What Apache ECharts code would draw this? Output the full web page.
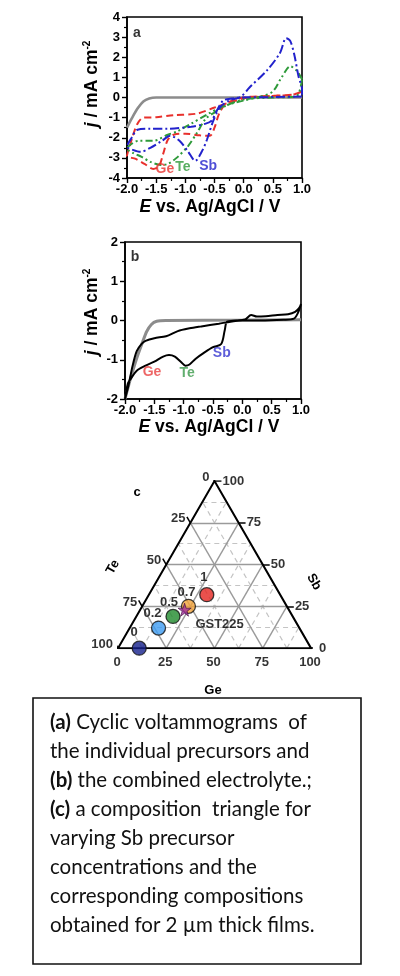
<!DOCTYPE html>
<html><head><meta charset="utf-8">
<script src="https://cdn.jsdelivr.net/npm/echarts@6/dist/echarts.min.js"></script>
<style>html,body{margin:0;padding:0;background:#fff;}#c{width:400px;height:976px;}</style>
</head><body><div id="c"></div>
<script>
// ---------- Panel a : individual precursors  [E (V), j (mA cm-2)] ----------
const bgA = [[-2.0,-1.5],[-1.92,-1.05],[-1.82,-0.55],[-1.72,-0.2],[-1.62,-0.05],[-1.5,0],[-1.0,0],[0,0],[1.0,0]];
const geA = [[1.0,0.3],[0.85,0.15],[0.5,0.08],[0.2,0.02],[0.0,-0.05],[-0.25,-0.25],[-0.5,-0.5],[-0.8,-0.8],[-1.2,-0.88],[-1.5,-0.98],[-1.72,-1.0],[-1.82,-1.3],[-1.9,-1.9],[-1.96,-2.5],[-2.0,-2.9],[-1.85,-3.05],[-1.7,-3.3],[-1.55,-3.55],[-1.45,-3.4],[-1.38,-2.8],[-1.3,-2.1],[-1.2,-1.85],[-1.0,-1.8],[-0.75,-1.88],[-0.58,-1.9],[-0.5,-1.5],[-0.42,-0.8],[-0.3,-0.3],[0.0,0.0],[0.5,0.08],[0.85,0.15],[1.0,0.3]];
const teA = [[1.0,0.9],[0.92,1.3],[0.8,1.55],[0.65,1.0],[0.5,0.3],[0.3,0.05],[0.0,-0.15],[-0.2,-0.3],[-0.4,-0.5],[-0.6,-0.8],[-0.9,-1.3],[-1.15,-1.7],[-1.3,-1.85],[-1.55,-2.15],[-1.8,-2.15],[-1.92,-2.3],[-2.0,-2.55],[-1.9,-2.75],[-1.75,-2.95],[-1.6,-3.2],[-1.42,-3.35],[-1.3,-3.3],[-1.15,-3.0],[-0.95,-2.4],[-0.8,-1.75],[-0.65,-1.05],[-0.5,-0.75],[-0.3,-0.4],[0.0,-0.1],[0.5,0.0],[0.9,0.05],[1.0,0.9]];
const sbA = [[1.0,0.05],[0.5,0.02],[0.0,0.0],[-0.2,-0.05],[-0.35,-0.15],[-0.45,-0.6],[-0.55,-1.15],[-0.65,-1.3],[-0.9,-1.45],[-1.3,-1.55],[-1.6,-1.55],[-1.82,-1.6],[-1.92,-2.0],[-2.0,-2.45],[-1.9,-2.6],[-1.77,-2.7],[-1.6,-2.5],[-1.4,-2.15],[-1.26,-1.9],[-1.1,-2.15],[-0.95,-2.7],[-0.83,-3.15],[-0.72,-2.7],[-0.63,-2.1],[-0.52,-1.15],[-0.4,-0.46],[-0.23,-0.13],[-0.05,0.03],[0.1,0.5],[0.4,1.35],[0.62,2.2],[0.73,2.95],[0.8,2.8],[0.87,2.1],[0.94,1.05],[1.0,0.4],[1.0,0.05]];
const annA = [['Ge',-1.35,-3.56,'#e8302c'],['Te',-1.04,-3.46,'#2e9a3a'],['Sb',-0.61,-3.41,'#2222cc']];

// ---------- Panel b : combined electrolyte ----------
const bgB = [[-2.0,-2.0],[-1.9,-1.45],[-1.8,-0.96],[-1.7,-0.55],[-1.63,-0.28],[-1.55,-0.1],[-1.46,-0.02],[-1.3,0],[0,0.01],[1.0,0.02]];
const combB = [[-2.0,-2.0],[-1.95,-1.6],[-1.9,-1.48],[-1.8,-1.28],[-1.65,-1.15],[-1.5,-1.05],[-1.35,-0.92],[-1.25,-0.88],[-1.15,-0.92],[-1.05,-1.05],[-0.97,-1.15],[-0.9,-1.12],[-0.8,-0.98],[-0.65,-0.82],[-0.5,-0.68],[-0.36,-0.6],[-0.3,-0.25],[-0.26,-0.03],[-0.1,0.0],[0.05,0.03],[0.15,0.14],[0.25,0.1],[0.4,0.11],[0.6,0.14],[0.78,0.16],[0.9,0.22],[0.97,0.32],[1.0,0.42],[0.95,0.2],[0.88,0.05],[0.7,0.02],[0.3,0.0],[0.0,0.0],[-0.2,-0.03],[-0.4,-0.08],[-0.7,-0.15],[-0.9,-0.2],[-1.1,-0.27],[-1.3,-0.4],[-1.5,-0.45],[-1.65,-0.52],[-1.72,-0.6],[-1.8,-0.78],[-1.87,-1.15],[-1.94,-1.65],[-2.0,-2.0]];
const annB = [['Ge',-1.54,-1.31,'#e84040'],['Te',-0.94,-1.34,'#3a9a4a'],['Sb',-0.35,-0.83,'#3535d0']];

// ---------- Panel c : composition triangle (at.% Ge, Sb; Te = rest) ----------
const ternNames = ['1','0.7','0.5','0.2','0'];
const ternGe = [30, 24, 19, 15, 11];
const ternSb = [32, 25, 19, 12, 0];
const ternColors = ['#e52521','#f2a23a','#1f8a2c','#3d9cf2','#15208c'];
const gst = ['GST225', 23, 23];
const ternTicks = [0,25,50,75,100];
const majorLevels = [25,50,75];
const minorLevels = [12.5,37.5,62.5,87.5];

const H = Math.sqrt(3)/2;
function tern(ge, sb){ return [ge + sb/2, sb*H]; }

const FONT = 'Liberation Sans';
const chart = echarts.init(document.getElementById('c'), null, {renderer:'canvas'});

function cvX(idx){
  return {gridIndex: idx, type:'value', min:-2, max:1, interval:0.5,
    axisLine:{show:true, onZero:false, lineStyle:{color:'#000', width:1.6}},
    axisTick:{show:true, length:5, lineStyle:{color:'#000', width:1.4}},
    minorTick:{show:true, splitNumber:2, length:3, lineStyle:{color:'#000', width:1.2}},
    splitLine:{show:false},
    axisLabel:{color:'#000', fontFamily:FONT, fontWeight:'bold', fontSize:13, margin:5,
      formatter: v => v.toFixed(1)}};
}
function cvY(idx, min, max){
  return {gridIndex: idx, type:'value', min:min, max:max, interval:1,
    axisLine:{show:true, onZero:false, lineStyle:{color:'#000', width:1.6}},
    axisTick:{show:true, length:5, lineStyle:{color:'#000', width:1.4}},
    minorTick:{show:true, splitNumber:2, length:3, lineStyle:{color:'#000', width:1.2}},
    splitLine:{show:false},
    axisLabel:{color:'#000', fontFamily:FONT, fontWeight:'bold', fontSize:13, margin:7}};
}
function cvLine(data, color, dash, xi, width){
  return {type:'line', xAxisIndex:xi, yAxisIndex:xi, data:data, smooth:0.3, symbol:'none',
    lineStyle:{color:color, width:width||2, type:dash}, z:3};
}
function annSeries(arr, xi, size){
  return {type:'scatter', xAxisIndex:xi, yAxisIndex:xi, symbolSize:0, z:5,
    data: arr.map(a => ({value:[a[1],a[2]], name:a[0],
      label:{show:true, position:'inside', formatter:a[0], color:a[3], fontFamily:FONT, fontWeight:'bold', fontSize:size}}))};
}

const series = [];
// panel a
series.push(cvLine(bgA, '#8c8c8c', 'solid', 0, 2.6));
series.push(cvLine(geA, '#e8302c', [7,4], 0, 2));
series.push(cvLine(teA, '#2e9a3a', [7,3,2,3,2,3], 0, 2));
series.push(cvLine(sbA, '#2222cc', [9,3,2,3], 0, 2));
series.push(annSeries(annA, 0, 14));
series.push({type:'scatter', xAxisIndex:0, yAxisIndex:0, symbolSize:0,
  data:[{value:[-1.83,3.2], label:{show:true, position:'inside', formatter:'a', color:'#000', fontFamily:FONT, fontWeight:'bold', fontSize:14}}]});
// panel b
series.push(cvLine(bgB, '#8c8c8c', 'solid', 1, 3));
series.push(cvLine(combB, '#000', 'solid', 1, 2));
series.push(annSeries(annB, 1, 14));
series.push({type:'scatter', xAxisIndex:1, yAxisIndex:1, symbolSize:0,
  data:[{value:[-1.83,1.62], label:{show:true, position:'inside', formatter:'b', color:'#000', fontFamily:FONT, fontWeight:'bold', fontSize:14}}]});

// panel c grid lines
function levelLines(levels){
  const out = [];
  levels.forEach(k => {
    out.push({coords:[tern(k,0), tern(k,100-k)]});
    out.push({coords:[tern(0,k), tern(100-k,k)]});
    out.push({coords:[tern(100-k,0), tern(0,100-k)]});
  });
  return out;
}
series.push({type:'lines', coordinateSystem:'cartesian2d', xAxisIndex:2, yAxisIndex:2, polyline:false, z:1,
  data: levelLines(minorLevels), lineStyle:{color:'#c4c4c4', width:1.2, type:[5,4], opacity:1}});
series.push({type:'lines', coordinateSystem:'cartesian2d', xAxisIndex:2, yAxisIndex:2, polyline:false, z:2,
  data: levelLines(majorLevels), lineStyle:{color:'#9a9a9a', width:1.4, opacity:1}});
// outline
series.push({type:'lines', coordinateSystem:'cartesian2d', xAxisIndex:2, yAxisIndex:2, polyline:true, z:3,
  data:[{coords:[tern(0,0), tern(100,0), tern(0,100), tern(0,0)]}], lineStyle:{color:'#000', width:2, opacity:1}});
// ticks
const L = 3.6;
const tickLines = [];
ternTicks.forEach(k => {
  const b = tern(k,0); tickLines.push({coords:[b,[b[0]-0.5*L, b[1]-H*L]]});
  const r = tern(100-k,k); tickLines.push({coords:[r,[r[0]+L, r[1]]]});
  const l = tern(0,100-k); tickLines.push({coords:[l,[l[0]-0.5*L, l[1]+H*L]]});
});
series.push({type:'lines', coordinateSystem:'cartesian2d', xAxisIndex:2, yAxisIndex:2, polyline:false, z:3,
  data:tickLines, lineStyle:{color:'#000', width:1.5, opacity:1}});
// tick labels
const tlStyle = {show:true, color:'#000', fontFamily:FONT, fontWeight:'bold', fontSize:13};
series.push({type:'scatter', xAxisIndex:2, yAxisIndex:2, symbolSize:0, clip:false, z:4,
  data: [].concat(
    ternTicks.map(k => ({value:tern(k,0), label:Object.assign({}, tlStyle, {position:'bottom', distance:8, offset:[-1,0], formatter:String(k)})})),
    ternTicks.map(k => ({value:tern(100-k,k), label:Object.assign({}, tlStyle, {position:'right', distance:8, formatter:String(k)})})),
    ternTicks.map(k => ({value:tern(0,100-k), label:Object.assign({}, tlStyle, {position:'left', distance:5, offset:[0,-4], formatter:String(k)})}))
  )});
// composition points
const ptLabelOffsets = [[-3,-17],[-2,-14],[-4,-14],[-6,-15],[-5,-16]];
series.push({type:'scatter', xAxisIndex:2, yAxisIndex:2, symbol:'circle', symbolSize:14, clip:false, z:6,
  data: ternNames.map((n,i) => ({value:tern(ternGe[i], ternSb[i]), name:n,
    itemStyle:{color:ternColors[i], borderColor:'#111', borderWidth:1.3},
    label:{show:true, position:'inside', offset:ptLabelOffsets[i], formatter:n, color:'#000', fontFamily:FONT, fontWeight:'bold', fontSize:13}}))});
series.push({type:'scatter', xAxisIndex:2, yAxisIndex:2, symbol:'path://M50,0 L61,35 L98,35 L68,57 L79,91 L50,70 L21,91 L32,57 L2,35 L39,35 Z',
  symbolSize:13, clip:false, z:7,
  data:[{value:tern(gst[1],gst[2]), name:gst[0], itemStyle:{color:'#a0309a', borderColor:'#3a0a3a', borderWidth:0.8},
    label:{show:true, position:'inside', offset:[35,15], formatter:gst[0], color:'#000', fontFamily:FONT, fontWeight:'bold', fontSize:13}}]});

const bold = {fontFamily:FONT, fontWeight:'bold', fontSize:13, fill:'#000'};
const TS = 17.5;
const titleRich = {i:{fontStyle:'italic', fontWeight:'bold', fontFamily:FONT, fontSize:TS},
  s:{fontSize:10, fontWeight:'bold', fontFamily:FONT, verticalAlign:'top', padding:[0,0,10,0]}};
const capLines = [
  '{b|(a)} Cyclic voltammograms  of',
  'the individual precursors and',
  '{b|(b)} the combined electrolyte.;',
  '{b|(c)} a composition  triangle for',
  'varying Sb precursor',
  'concentrations and the',
  'corresponding compositions',
  'obtained for 2 \u00b5m thick films.'
];
const capFont = 'Lato';
const CS = 20.5;
const graphics = [
  {type:'text', x:92, y:84, rotation:Math.PI/2, style:Object.assign({}, bold, {fontSize:TS, text:'{i|j} / mA cm{s|-2}', align:'center', verticalAlign:'middle', rich:titleRich})},
  {type:'text', x:210, y:207, style:Object.assign({}, bold, {fontSize:TS, text:'{i|E} vs. Ag/AgCl / V', align:'center', verticalAlign:'middle', rich:titleRich})},
  {type:'text', x:92, y:312, rotation:Math.PI/2, style:Object.assign({}, bold, {fontSize:TS, text:'{i|j} / mA cm{s|-2}', align:'center', verticalAlign:'middle', rich:titleRich})},
  {type:'text', x:209, y:427, style:Object.assign({}, bold, {fontSize:TS, text:'{i|E} vs. Ag/AgCl / V', align:'center', verticalAlign:'middle', rich:titleRich})},
  {type:'text', x:137, y:492, style:Object.assign({}, bold, {text:'c', align:'center', verticalAlign:'middle'})},
  {type:'text', x:113, y:567, rotation:Math.PI/3, style:Object.assign({}, bold, {text:'Te', align:'center', verticalAlign:'middle'})},
  {type:'text', x:314, y:582, rotation:-Math.PI/3, style:Object.assign({}, bold, {text:'Sb', align:'center', verticalAlign:'middle'})},
  {type:'text', x:213, y:690, style:Object.assign({}, bold, {text:'Ge', align:'center', verticalAlign:'middle'})},
  {type:'rect', shape:{x:33, y:698, width:328, height:266}, style:{fill:'#fff', stroke:'#111', lineWidth:1.6}, z:-1}
];
capLines.forEach((t,i) => {
  graphics.push({type:'text', x:50, y:722 + i*29.1, style:{text:t, fontFamily:capFont, fontSize:CS, fill:'#111', align:'left', verticalAlign:'middle',
    rich:{b:{fontFamily:capFont, fontSize:CS, fontWeight:'bold', fill:'#111'}}}});
});

chart.setOption({
  animation:false,
  backgroundColor:'#fff',
  grid:[
    {left:127, top:17, width:175, height:161, show:true, borderColor:'#000', borderWidth:1.6, backgroundColor:'transparent'},
    {left:125, top:242, width:176, height:157, show:true, borderColor:'#000', borderWidth:1.6, backgroundColor:'transparent'},
    {left:118, top:481, width:193, height:193*H}
  ],
  xAxis:[cvX(0), cvX(1), {gridIndex:2, type:'value', min:0, max:100, show:false}],
  yAxis:[cvY(0,-4,4), cvY(1,-2,2), {gridIndex:2, type:'value', min:0, max:100*H, show:false}],
  series:series,
  graphic:graphics
});
</script></body></html>
